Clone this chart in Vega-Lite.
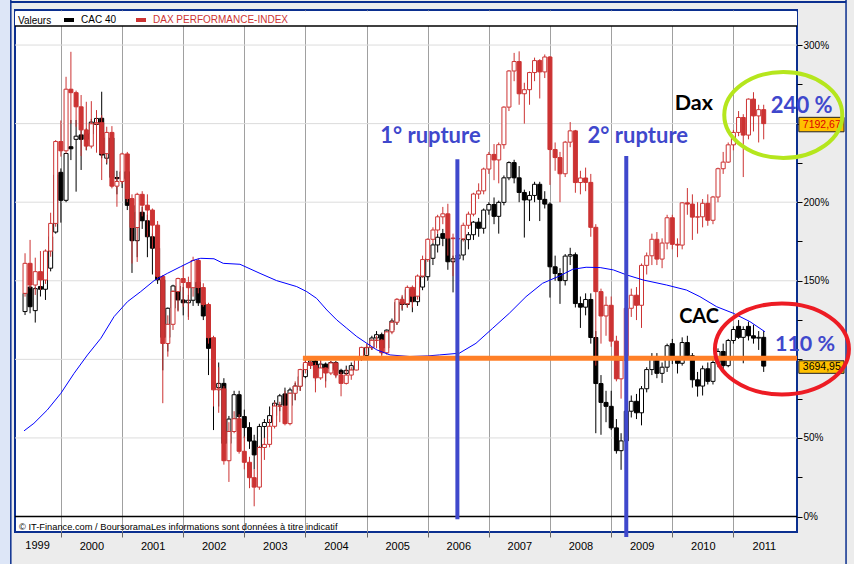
{
  "$schema": "https://vega.github.io/schema/vega-lite/v6.json",
  "width": 782,
  "height": 522,
  "autosize": {"type": "none"},
  "padding": {"left": 15, "top": 10, "right": 57, "bottom": 32},
  "background": "#ececec",
  "config": {
    "view": {"fill": "white", "stroke": "#0b2f8f", "strokeWidth": 2},
    "font": "Liberation Sans"
  },
  "resolve": {"axis": {"x": "independent", "y": "independent"}},
  "datasets": {
    "dax": [
      {"d":"1999-06","o":142,"h":167.5,"l":139.9,"c":161.1},
      {"d":"1999-07","o":161.1,"h":176,"l":145.2,"c":147.3},
      {"d":"1999-08","o":147.3,"h":164.7,"l":141,"c":155.8},
      {"d":"1999-09","o":155.8,"h":168.9,"l":144.1,"c":150.5},
      {"d":"1999-10","o":150.5,"h":170,"l":148,"c":168.9},
      {"d":"1999-11","o":168.9,"h":193.3,"l":165.3,"c":186.5},
      {"d":"1999-12","o":186.5,"h":239.5,"l":184.4,"c":238.6},
      {"d":"2000-01","o":238.6,"h":252,"l":229,"c":232.7},
      {"d":"2000-02","o":232.7,"h":279.8,"l":231,"c":271.9},
      {"d":"2000-03","o":271.9,"h":295.7,"l":250,"c":269.7},
      {"d":"2000-04","o":269.7,"h":271,"l":248,"c":260.7},
      {"d":"2000-05","o":260.7,"h":268.2,"l":229.4,"c":246},
      {"d":"2000-06","o":246,"h":263.9,"l":233.2,"c":235.7},
      {"d":"2000-07","o":235.7,"h":264.3,"l":234.2,"c":249.9},
      {"d":"2000-08","o":249.9,"h":258.6,"l":231.5,"c":250.6},
      {"d":"2000-09","o":250.6,"h":255.4,"l":214.1,"c":230.9},
      {"d":"2000-10","o":230.9,"h":248,"l":225,"c":244.4},
      {"d":"2000-11","o":244.4,"h":248.4,"l":208.8,"c":210.2},
      {"d":"2000-12","o":210.2,"h":216.2,"l":197.1,"c":213.2},
      {"d":"2001-01","o":213.2,"h":231.5,"l":211.6,"c":230.7},
      {"d":"2001-02","o":230.7,"h":232,"l":200,"c":202.3},
      {"d":"2001-03","o":202.3,"h":205,"l":161,"c":183.9},
      {"d":"2001-04","o":183.9,"h":206,"l":162,"c":205},
      {"d":"2001-05","o":205,"h":207,"l":191,"c":198.1},
      {"d":"2001-06","o":198.1,"h":205,"l":178,"c":195},
      {"d":"2001-07","o":195,"h":196,"l":170.6,"c":185.4},
      {"d":"2001-08","o":185.4,"h":188,"l":150.5,"c":152.8},
      {"d":"2001-09","o":152.8,"h":153.7,"l":72.1,"c":110.1},
      {"d":"2001-10","o":110.1,"h":128,"l":101.7,"c":122.3},
      {"d":"2001-11","o":122.3,"h":144.1,"l":118.7,"c":143.2},
      {"d":"2001-12","o":143.2,"h":152,"l":130.4,"c":151.4},
      {"d":"2002-01","o":151.4,"h":160,"l":133.5,"c":148.9},
      {"d":"2002-02","o":148.9,"h":152.6,"l":125.1,"c":145.6},
      {"d":"2002-03","o":145.6,"h":165.3,"l":139.9,"c":162.9},
      {"d":"2002-04","o":162.9,"h":164.3,"l":142,"c":145.7},
      {"d":"2002-05","o":145.7,"h":148.4,"l":133.5,"c":134.9},
      {"d":"2002-06","o":134.9,"h":136,"l":110,"c":113.8},
      {"d":"2002-07","o":113.8,"h":115,"l":70,"c":80.6},
      {"d":"2002-08","o":80.6,"h":95,"l":66,"c":81.2},
      {"d":"2002-09","o":81.2,"h":83,"l":33,"c":35.5},
      {"d":"2002-10","o":35.5,"h":60,"l":22,"c":54.1},
      {"d":"2002-11","o":54.1,"h":67,"l":53,"c":62.2},
      {"d":"2002-12","o":62.2,"h":65,"l":40,"c":41.5},
      {"d":"2003-01","o":41.5,"h":51,"l":30,"c":34.5},
      {"d":"2003-02","o":34.5,"h":38,"l":18,"c":24.7},
      {"d":"2003-03","o":24.7,"h":30,"l":6.5,"c":18.7},
      {"d":"2003-04","o":18.7,"h":45,"l":17,"c":43.9},
      {"d":"2003-05","o":43.9,"h":50,"l":36,"c":45.9},
      {"d":"2003-06","o":45.9,"h":62,"l":44,"c":57.4},
      {"d":"2003-07","o":57.4,"h":73,"l":56,"c":70.3},
      {"d":"2003-08","o":70.3,"h":73,"l":60,"c":70.2},
      {"d":"2003-09","o":70.2,"h":80,"l":58,"c":59.1},
      {"d":"2003-10","o":59.1,"h":79,"l":58,"c":78.4},
      {"d":"2003-11","o":78.4,"h":86,"l":74,"c":82.9},
      {"d":"2003-12","o":82.9,"h":94,"l":80,"c":93.5},
      {"d":"2004-01","o":93.5,"h":101,"l":91,"c":98},
      {"d":"2004-02","o":98,"h":101,"l":94,"c":96.1},
      {"d":"2004-03","o":96.1,"h":98,"l":79,"c":88.2},
      {"d":"2004-04","o":88.2,"h":101,"l":87,"c":94.5},
      {"d":"2004-05","o":94.5,"h":95,"l":82,"c":91.3},
      {"d":"2004-06","o":91.3,"h":99,"l":90,"c":97.7},
      {"d":"2004-07","o":97.7,"h":98,"l":88,"c":90.1},
      {"d":"2004-08","o":90.1,"h":92,"l":76.5,"c":84.7},
      {"d":"2004-09","o":84.7,"h":94,"l":84,"c":90},
      {"d":"2004-10","o":90,"h":95,"l":87,"c":93.2},
      {"d":"2004-11","o":93.2,"h":102,"l":93,"c":101.3},
      {"d":"2004-12","o":101.3,"h":108,"l":99,"c":107.6},
      {"d":"2005-01","o":107.6,"h":110,"l":103,"c":107.5},
      {"d":"2005-02","o":107.5,"h":113,"l":106,"c":112.1},
      {"d":"2005-03","o":112.1,"h":115,"l":107,"c":112.2},
      {"d":"2005-04","o":112.2,"h":113,"l":100,"c":104.2},
      {"d":"2005-05","o":104.2,"h":118,"l":103,"c":117.5},
      {"d":"2005-06","o":117.5,"h":125,"l":116,"c":123.6},
      {"d":"2005-07","o":123.6,"h":139,"l":122,"c":138.2},
      {"d":"2005-08","o":138.2,"h":141,"l":132,"c":135.4},
      {"d":"2005-09","o":135.4,"h":147,"l":133,"c":145.8},
      {"d":"2005-10","o":145.8,"h":147,"l":133,"c":140.2},
      {"d":"2005-11","o":140.2,"h":154,"l":138,"c":153},
      {"d":"2005-12","o":153,"h":166,"l":152,"c":163.5},
      {"d":"2006-01","o":163.5,"h":177,"l":162,"c":176.4},
      {"d":"2006-02","o":176.4,"h":184,"l":174,"c":182.3},
      {"d":"2006-03","o":182.3,"h":192,"l":180,"c":190.7},
      {"d":"2006-04","o":190.7,"h":197,"l":186,"c":192.6},
      {"d":"2006-05","o":192.6,"h":199,"l":166,"c":177.2},
      {"d":"2006-06","o":177.2,"h":180,"l":153,"c":176.8},
      {"d":"2006-07","o":176.8,"h":182,"l":168,"c":176.7},
      {"d":"2006-08","o":176.7,"h":187,"l":175,"c":185.3},
      {"d":"2006-09","o":185.3,"h":194,"l":183,"c":192.4},
      {"d":"2006-10","o":192.4,"h":206,"l":191,"c":205.2},
      {"d":"2006-11","o":205.2,"h":212,"l":202,"c":207.2},
      {"d":"2006-12","o":207.2,"h":222,"l":205,"c":221.1},
      {"d":"2007-01","o":221.1,"h":232,"l":218,"c":230.4},
      {"d":"2007-02","o":230.4,"h":237,"l":214,"c":226.9},
      {"d":"2007-03","o":226.9,"h":238,"l":212,"c":236.6},
      {"d":"2007-04","o":236.6,"h":261,"l":234,"c":260.5},
      {"d":"2007-05","o":260.5,"h":284,"l":258,"c":283.5},
      {"d":"2007-06","o":283.5,"h":295,"l":277,"c":289.5},
      {"d":"2007-07","o":289.5,"h":296,"l":262,"c":269},
      {"d":"2007-08","o":269,"h":276,"l":250,"c":271.6},
      {"d":"2007-09","o":271.6,"h":283,"l":262,"c":282.5},
      {"d":"2007-10","o":282.5,"h":292,"l":277,"c":290.1},
      {"d":"2007-11","o":290.1,"h":291,"l":266,"c":282.9},
      {"d":"2007-12","o":282.9,"h":294,"l":279,"c":292.4},
      {"d":"2008-01","o":292.4,"h":293,"l":211,"c":233.5},
      {"d":"2008-02","o":233.5,"h":238,"l":220,"c":228.4},
      {"d":"2008-03","o":228.4,"h":232,"l":200,"c":218.1},
      {"d":"2008-04","o":218.1,"h":239,"l":216,"c":238.2},
      {"d":"2008-05","o":238.2,"h":251,"l":235,"c":245.4},
      {"d":"2008-06","o":245.4,"h":246,"l":206,"c":212.5},
      {"d":"2008-07","o":212.5,"h":220,"l":205,"c":215.4},
      {"d":"2008-08","o":215.4,"h":222,"l":207,"c":212.6},
      {"d":"2008-09","o":212.6,"h":218,"l":178,"c":184},
      {"d":"2008-10","o":184,"h":186,"l":96,"c":143.1},
      {"d":"2008-11","o":143.1,"h":145,"l":110,"c":127.6},
      {"d":"2008-12","o":127.6,"h":140,"l":115,"c":134.4},
      {"d":"2009-01","o":134.4,"h":140,"l":108,"c":111.6},
      {"d":"2009-02","o":111.6,"h":115,"l":86,"c":87.6},
      {"d":"2009-03","o":87.6,"h":100,"l":75,"c":99.3},
      {"d":"2009-04","o":99.3,"h":134,"l":94,"c":132.5},
      {"d":"2009-05","o":132.5,"h":145,"l":127,"c":140.8},
      {"d":"2009-06","o":140.8,"h":146,"l":125,"c":134.4},
      {"d":"2009-07","o":134.4,"h":161,"l":120,"c":159.8},
      {"d":"2009-08","o":159.8,"h":168,"l":154,"c":165.9},
      {"d":"2009-09","o":165.9,"h":180,"l":160,"c":176.4},
      {"d":"2009-10","o":176.4,"h":181,"l":160,"c":163.8},
      {"d":"2009-11","o":163.8,"h":177,"l":158,"c":174},
      {"d":"2009-12","o":174,"h":192,"l":170,"c":190.1},
      {"d":"2010-01","o":190.1,"h":192,"l":170,"c":173.2},
      {"d":"2010-02","o":173.2,"h":177,"l":165,"c":172.7},
      {"d":"2010-03","o":172.7,"h":200,"l":170,"c":199.6},
      {"d":"2010-04","o":199.6,"h":209,"l":192,"c":198.8},
      {"d":"2010-05","o":198.8,"h":205,"l":176,"c":190.5},
      {"d":"2010-06","o":190.5,"h":200,"l":180,"c":190.7},
      {"d":"2010-07","o":190.7,"h":202,"l":184,"c":199.3},
      {"d":"2010-08","o":199.3,"h":205,"l":185,"c":188.5},
      {"d":"2010-09","o":188.5,"h":204,"l":186,"c":203.3},
      {"d":"2010-10","o":203.3,"h":222,"l":200,"c":221.3},
      {"d":"2010-11","o":221.3,"h":232,"l":218,"c":225.5},
      {"d":"2010-12","o":225.5,"h":238,"l":225,"c":236.5},
      {"d":"2011-01","o":236.5,"h":246,"l":233,"c":244.4},
      {"d":"2011-02","o":244.4,"h":258,"l":242,"c":253.9},
      {"d":"2011-03","o":253.9,"h":256,"l":216,"c":242.7},
      {"d":"2011-04","o":242.7,"h":266,"l":240,"c":265.6},
      {"d":"2011-05","o":265.6,"h":270,"l":245,"c":254.9},
      {"d":"2011-06","o":254.9,"h":262,"l":238,"c":258.9},
      {"d":"2011-07","o":258.9,"h":262,"l":240,"c":250}
    ],
    "cac": [
      {"d":"1999-06","o":130.4,"h":144.1,"l":128.2,"c":142},
      {"d":"1999-07","o":146,"h":147,"l":129.3,"c":133.5},
      {"d":"1999-08","o":131,"h":146,"l":123.4,"c":145},
      {"d":"1999-09","o":146.3,"h":147,"l":140,"c":144.6},
      {"d":"1999-10","o":144.6,"h":158,"l":137.8,"c":156},
      {"d":"1999-11","o":158,"h":180,"l":156,"c":178},
      {"d":"1999-12","o":181,"h":218,"l":180,"c":217.3},
      {"d":"2000-01","o":219,"h":221.5,"l":187,"c":201.2},
      {"d":"2000-02","o":201.2,"h":231.1,"l":200,"c":231},
      {"d":"2000-03","o":235.3,"h":252.3,"l":226.8,"c":234},
      {"d":"2000-04","o":240,"h":252.3,"l":206.7,"c":242},
      {"d":"2000-05","o":242.8,"h":245.9,"l":220.5,"c":240},
      {"d":"2000-06","o":240,"h":247,"l":233,"c":243.5},
      {"d":"2000-07","o":243.5,"h":253,"l":240,"c":251},
      {"d":"2000-08","o":249.5,"h":256,"l":245,"c":253.3},
      {"d":"2000-09","o":253.4,"h":270.3,"l":228,"c":230},
      {"d":"2000-10","o":228,"h":243,"l":224,"c":240.9},
      {"d":"2000-11","o":240.9,"h":243,"l":210,"c":215.7},
      {"d":"2000-12","o":215.7,"h":220,"l":205,"c":215},
      {"d":"2001-01","o":215,"h":223,"l":209,"c":219.4},
      {"d":"2001-02","o":219.4,"h":222,"l":195,"c":198},
      {"d":"2001-03","o":198,"h":200,"l":155,"c":175.5},
      {"d":"2001-04","o":175.5,"h":195,"l":165,"c":193.6},
      {"d":"2001-05","o":193.6,"h":197,"l":183,"c":188.2},
      {"d":"2001-06","o":188.2,"h":192,"l":165,"c":178},
      {"d":"2001-07","o":178,"h":180,"l":154,"c":170.7},
      {"d":"2001-08","o":170.7,"h":172,"l":148,"c":150.6},
      {"d":"2001-09","o":150.6,"h":152,"l":93,"c":114},
      {"d":"2001-10","o":114,"h":133,"l":105,"c":132.5},
      {"d":"2001-11","o":132.5,"h":147.5,"l":125,"c":146.7},
      {"d":"2001-12","o":146.7,"h":148,"l":131,"c":137.8},
      {"d":"2002-01","o":137.8,"h":146,"l":128,"c":136},
      {"d":"2002-02","o":136,"h":141,"l":127,"c":137.6},
      {"d":"2002-03","o":137.6,"h":151,"l":134,"c":149.1},
      {"d":"2002-04","o":149.1,"h":150,"l":134,"c":136},
      {"d":"2002-05","o":136,"h":140,"l":125,"c":127.6},
      {"d":"2002-06","o":127.6,"h":129,"l":90,"c":107},
      {"d":"2002-07","o":107,"h":110,"l":55,"c":82},
      {"d":"2002-08","o":82,"h":98,"l":70,"c":84.7},
      {"d":"2002-09","o":84.7,"h":88,"l":44,"c":46.5},
      {"d":"2002-10","o":46.5,"h":64,"l":36,"c":62},
      {"d":"2002-11","o":62,"h":80,"l":57,"c":77.5},
      {"d":"2002-12","o":77.5,"h":80,"l":58,"c":63.6},
      {"d":"2003-01","o":63.6,"h":68,"l":50,"c":56.6},
      {"d":"2003-02","o":56.6,"h":60,"l":43,"c":48},
      {"d":"2003-03","o":48,"h":52,"l":30,"c":39.2},
      {"d":"2003-04","o":42.4,"h":59,"l":38,"c":57.3},
      {"d":"2003-05","o":57.3,"h":62,"l":50,"c":59.8},
      {"d":"2003-06","o":59.8,"h":70,"l":57,"c":64.2},
      {"d":"2003-07","o":64.2,"h":74,"l":62,"c":72.1},
      {"d":"2003-08","o":71,"h":78,"l":67,"c":76.8},
      {"d":"2003-09","o":78,"h":82,"l":66,"c":70.6},
      {"d":"2003-10","o":70.6,"h":82,"l":69,"c":80.5},
      {"d":"2003-11","o":80.5,"h":85,"l":74,"c":83},
      {"d":"2003-12","o":83,"h":90,"l":80,"c":89},
      {"d":"2004-01","o":89,"h":100,"l":88,"c":97},
      {"d":"2004-02","o":97,"h":101,"l":94,"c":99},
      {"d":"2004-03","o":99,"h":100,"l":86,"c":94},
      {"d":"2004-04","o":94,"h":101,"l":91,"c":97},
      {"d":"2004-05","o":97,"h":98,"l":86,"c":94},
      {"d":"2004-06","o":94,"h":99,"l":92,"c":98},
      {"d":"2004-07","o":98,"h":99,"l":89,"c":93},
      {"d":"2004-08","o":93,"h":94,"l":86,"c":91},
      {"d":"2004-09","o":91,"h":96,"l":89,"c":93},
      {"d":"2004-10","o":93,"h":98,"l":90,"c":96},
      {"d":"2004-11","o":96,"h":102,"l":95,"c":101},
      {"d":"2004-12","o":101,"h":104,"l":99,"c":102.5},
      {"d":"2005-01","o":102.5,"h":108,"l":101,"c":107.5},
      {"d":"2005-02","o":107.5,"h":115,"l":106,"c":113.6},
      {"d":"2005-03","o":113.6,"h":118,"l":110,"c":115.7},
      {"d":"2005-04","o":115.7,"h":117,"l":103,"c":107.2},
      {"d":"2005-05","o":107.2,"h":119,"l":104,"c":118.6},
      {"d":"2005-06","o":118.6,"h":126,"l":117,"c":124.4},
      {"d":"2005-07","o":124.4,"h":137,"l":122,"c":136.4},
      {"d":"2005-08","o":136.4,"h":140,"l":131,"c":134.9},
      {"d":"2005-09","o":134.9,"h":146,"l":133,"c":144.4},
      {"d":"2005-10","o":144.4,"h":146,"l":130,"c":136.7},
      {"d":"2005-11","o":136.7,"h":148,"l":134,"c":146},
      {"d":"2005-12","o":146,"h":154,"l":144,"c":152.6},
      {"d":"2006-01","o":152.6,"h":165,"l":150,"c":164.3},
      {"d":"2006-02","o":164.3,"h":174,"l":160,"c":172.8},
      {"d":"2006-03","o":172.8,"h":180,"l":168,"c":177.7},
      {"d":"2006-04","o":180,"h":183,"l":172,"c":177},
      {"d":"2006-05","o":177,"h":183,"l":157,"c":162.1},
      {"d":"2006-06","o":162.1,"h":166,"l":142.6,"c":164},
      {"d":"2006-07","o":164,"h":170,"l":155,"c":166.4},
      {"d":"2006-08","o":166.4,"h":177,"l":163,"c":176.2},
      {"d":"2006-09","o":176.2,"h":181,"l":170,"c":179.3},
      {"d":"2006-10","o":179.3,"h":188,"l":176,"c":187.3},
      {"d":"2006-11","o":187.3,"h":190,"l":178,"c":183.4},
      {"d":"2006-12","o":183.4,"h":196,"l":180,"c":195},
      {"d":"2007-01","o":195,"h":200,"l":192,"c":198.5},
      {"d":"2007-02","o":198.5,"h":203,"l":186,"c":191},
      {"d":"2007-03","o":191,"h":201,"l":180,"c":199.9},
      {"d":"2007-04","o":199.9,"h":217,"l":198,"c":215.5},
      {"d":"2007-05","o":215.5,"h":226,"l":214,"c":225.2},
      {"d":"2007-06","o":225.2,"h":227,"l":212,"c":215.5},
      {"d":"2007-07","o":215.5,"h":223,"l":200,"c":206.2},
      {"d":"2007-08","o":206.2,"h":208,"l":177.5,"c":201.4},
      {"d":"2007-09","o":201.4,"h":207,"l":188,"c":204.3},
      {"d":"2007-10","o":204.3,"h":213,"l":200,"c":211.4},
      {"d":"2007-11","o":211.4,"h":213,"l":188,"c":201.8},
      {"d":"2007-12","o":201.8,"h":207,"l":196,"c":198.8},
      {"d":"2008-01","o":198.8,"h":200,"l":139.3,"c":158.9},
      {"d":"2008-02","o":158.9,"h":166,"l":150,"c":154.6},
      {"d":"2008-03","o":154.6,"h":158,"l":135.3,"c":150.1},
      {"d":"2008-04","o":150.1,"h":167,"l":147,"c":165.7},
      {"d":"2008-05","o":165.7,"h":171,"l":160,"c":166.6},
      {"d":"2008-06","o":166.6,"h":168,"l":133,"c":135.5},
      {"d":"2008-07","o":135.5,"h":140,"l":120,"c":133.2},
      {"d":"2008-08","o":133.2,"h":142,"l":128,"c":138.1},
      {"d":"2008-09","o":138.1,"h":142,"l":110,"c":113.9},
      {"d":"2008-10","o":113.9,"h":118,"l":53,"c":84.6},
      {"d":"2008-11","o":84.6,"h":90,"l":52,"c":72.6},
      {"d":"2008-12","o":72.6,"h":80,"l":60,"c":70.1},
      {"d":"2009-01","o":70.1,"h":80,"l":55,"c":56.4},
      {"d":"2009-02","o":56.4,"h":62,"l":40,"c":41.9},
      {"d":"2009-03","o":41.9,"h":53,"l":29.7,"c":48.1},
      {"d":"2009-04","o":48.1,"h":69,"l":45,"c":67},
      {"d":"2009-05","o":67,"h":77,"l":63,"c":73.3},
      {"d":"2009-06","o":73.3,"h":78,"l":62,"c":66},
      {"d":"2009-07","o":66,"h":83,"l":58,"c":81.3},
      {"d":"2009-08","o":81.3,"h":95,"l":79,"c":93.5},
      {"d":"2009-09","o":93.5,"h":104,"l":90,"c":101.1},
      {"d":"2009-10","o":101.1,"h":104,"l":88,"c":91.1},
      {"d":"2009-11","o":91.1,"h":98,"l":85,"c":95},
      {"d":"2009-12","o":95,"h":110,"l":92,"c":108.7},
      {"d":"2010-01","o":110,"h":113,"l":97,"c":100},
      {"d":"2010-02","o":100,"h":102,"l":91,"c":97.5},
      {"d":"2010-03","o":97.5,"h":114,"l":96,"c":110.7},
      {"d":"2010-04","o":110.7,"h":115,"l":100,"c":102.3},
      {"d":"2010-05","o":102.3,"h":104,"l":82,"c":87},
      {"d":"2010-06","o":87,"h":92,"l":76.3,"c":83},
      {"d":"2010-07","o":83,"h":96,"l":77,"c":94},
      {"d":"2010-08","o":94,"h":98,"l":84,"c":86},
      {"d":"2010-09","o":86,"h":100,"l":84,"c":98},
      {"d":"2010-10","o":98,"h":107,"l":95,"c":105},
      {"d":"2010-11","o":105,"h":110,"l":92,"c":96},
      {"d":"2010-12","o":96,"h":113,"l":95,"c":112},
      {"d":"2011-01","o":112,"h":121,"l":110,"c":119},
      {"d":"2011-02","o":121,"h":125,"l":113,"c":114},
      {"d":"2011-03","o":114,"h":121,"l":97.5,"c":119},
      {"d":"2011-04","o":121,"h":124,"l":112,"c":115},
      {"d":"2011-05","o":115,"h":122,"l":110,"c":113.5},
      {"d":"2011-06","o":113.5,"h":118,"l":106,"c":114},
      {"d":"2011-07","o":114,"h":118,"l":92,"c":95.7}
    ],
    "ma": [
      {"d":"1999-05-26","v":54.5},{"d":"1999-07-24","v":59.3},{"d":"1999-10-12","v":67.8},
      {"d":"2000-01-01","v":78.4},{"d":"2000-03-20","v":91.1},{"d":"2000-06-08","v":102.8},
      {"d":"2000-08-27","v":113.4},{"d":"2000-11-14","v":127.2},{"d":"2001-02-02","v":136.7},
      {"d":"2001-04-22","v":143.1},{"d":"2001-07-11","v":150.1},{"d":"2001-09-28","v":154.7},
      {"d":"2001-12-17","v":159},{"d":"2002-03-07","v":163.2},{"d":"2002-04-16","v":164.3},
      {"d":"2002-07-04","v":164},{"d":"2002-08-28","v":161.1},{"d":"2002-12-06","v":160.5},
      {"d":"2003-04-05","v":154.7},{"d":"2003-07-13","v":150.1},{"d":"2003-11-10","v":146.3},
      {"d":"2004-01-09","v":143.1},{"d":"2004-03-08","v":138.8},{"d":"2004-05-08","v":131.4},
      {"d":"2004-07-06","v":125.1},{"d":"2004-09-04","v":119.8},{"d":"2004-11-03","v":114.5},
      {"d":"2005-01-02","v":110.2},{"d":"2005-03-03","v":106},{"d":"2005-05-21","v":102.8},
      {"d":"2005-09-16","v":101.8},{"d":"2006-01-01","v":102.2},{"d":"2006-03-11","v":102.8},
      {"d":"2006-07-08","v":103.9},{"d":"2006-10-16","v":110.2},{"d":"2007-01-24","v":119.8},
      {"d":"2007-05-03","v":129.3},{"d":"2007-08-11","v":139.9},{"d":"2007-11-18","v":148.4},
      {"d":"2008-02-26","v":153},{"d":"2008-05-16","v":157.3},{"d":"2008-08-04","v":158.6},
      {"d":"2008-10-27","v":158.4},{"d":"2009-01-14","v":156.9},{"d":"2009-04-04","v":153.7},
      {"d":"2009-07-11","v":150.5},{"d":"2009-11-28","v":147.3},{"d":"2010-03-27","v":144.1},
      {"d":"2010-06-15","v":139.9},{"d":"2010-09-23","v":133.5},{"d":"2011-01-01","v":129.3},
      {"d":"2011-04-10","v":124},{"d":"2011-07-08","v":117.6}
    ],
    "ygrid": [{"v":50},{"v":100},{"v":150},{"v":200},{"v":250},{"v":300}],
    "one": [{}]
  },
  "layer": [
    {
      "data": {"name": "ygrid"},
      "mark": {"type": "rule", "stroke": "#dcdcdc", "strokeWidth": 1},
      "encoding": {
        "y": {
          "field": "v", "type": "quantitative",
          "scale": {"domain": [-9.86, 322.3], "nice": false, "zero": false, "padding": 0},
          "axis": {
            "title": null, "orient": "right",
            "values": [0, 25, 50, 75, 100, 125, 150, 175, 200, 225, 250, 275, 300],
            "labelExpr": "(datum.value % 50 === 0 && datum.value !== 100 && datum.value !== 250) ? datum.value + '%' : ''",
            "labelFont": "Liberation Sans", "labelFontSize": 10, "labelColor": "#000000", "labelPadding": 1,
            "tickSize": 5, "tickColor": "#000000", "domain": false, "grid": false
          }
        }
      }
    },
    {
      "data": {"name": "cac"},
      "mark": {"type": "rule", "strokeWidth": 1},
      "encoding": {
        "x": {
          "field": "d", "type": "temporal",
          "scale": {"type": "utc", "padding": 0, "domain": [{"year": 1999, "month": 4, "date": 2, "utc": true}, {"year": 2012, "month": 1, "date": 16, "utc": true}]},
          "axis": {
            "title": null, "orient": "bottom", "format": "%Y",
            "values": [
              {"year": 2000, "utc": true}, {"year": 2001, "utc": true}, {"year": 2002, "utc": true},
              {"year": 2003, "utc": true}, {"year": 2004, "utc": true}, {"year": 2005, "utc": true},
              {"year": 2006, "utc": true}, {"year": 2007, "utc": true}, {"year": 2008, "utc": true},
              {"year": 2009, "utc": true}, {"year": 2010, "utc": true}, {"year": 2011, "utc": true}
            ],
            "labelOffset": 30.5, "labelFlush": false, "labelOverlap": false, "labelPadding": 3,
            "labelFont": "Liberation Sans", "labelFontSize": 11, "labelColor": "#000000",
            "tickSize": 5, "tickColor": "#666666", "domain": false,
            "grid": true, "gridColor": "#a0a0a0", "gridWidth": 1
          }
        },
        "y": {"field": "l", "type": "quantitative", "axis": null},
        "y2": {"field": "h"},
        "stroke": {
          "datum": "CAC 40", "type": "nominal",
          "scale": {"domain": ["CAC 40", "DAX PERFORMANCE-INDEX"], "range": ["#000000", "#cc3333"]},
          "legend": {
            "title": "Valeurs", "orient": "top-left", "offset": 3, "padding": 0,
            "direction": "horizontal", "titleOrient": "left", "titlePadding": 10,
            "titleFont": "Liberation Sans", "titleFontSize": 10, "titleFontWeight": "normal", "titleColor": "#000000",
            "labelFont": "Liberation Sans", "labelFontSize": 10, "labelOffset": 5, "columnPadding": 11,
            "symbolType": "M -1 0 L 1 0", "symbolSize": 100, "symbolStrokeWidth": 4,
            "encode": {"labels": {"update": {"fill": {"signal": "datum.label === 'CAC 40' ? '#000000' : '#cc3333'"}}}}
          }
        }
      }
    },
    {
      "data": {"name": "cac"},
      "mark": {"type": "bar", "width": 4, "strokeWidth": 1},
      "encoding": {
        "x": {"field": "d", "type": "temporal", "axis": null},
        "y": {"field": "o", "type": "quantitative", "axis": null},
        "y2": {"field": "c"},
        "stroke": {"datum": "CAC 40", "type": "nominal", "legend": null},
        "fill": {"condition": {"test": "datum.c < datum.o", "value": "#000000"}, "value": "#ffffff"}
      }
    },
    {
      "data": {"name": "dax"},
      "mark": {"type": "rule", "strokeWidth": 1},
      "encoding": {
        "x": {"field": "d", "type": "temporal", "axis": null},
        "y": {"field": "l", "type": "quantitative", "axis": null},
        "y2": {"field": "h"},
        "stroke": {"datum": "DAX PERFORMANCE-INDEX", "type": "nominal", "legend": null}
      }
    },
    {
      "data": {"name": "dax"},
      "mark": {"type": "bar", "width": 4, "strokeWidth": 1},
      "encoding": {
        "x": {"field": "d", "type": "temporal", "axis": null},
        "y": {"field": "o", "type": "quantitative", "axis": null},
        "y2": {"field": "c"},
        "stroke": {"datum": "DAX PERFORMANCE-INDEX", "type": "nominal", "legend": null},
        "fill": {"condition": {"test": "datum.c < datum.o", "value": "#cc3333"}, "value": "#ffffff"}
      }
    },
    {
      "data": {"name": "ma"},
      "mark": {"type": "line", "stroke": "#0000ff", "strokeWidth": 1},
      "encoding": {
        "x": {"field": "d", "type": "temporal", "axis": null},
        "y": {"field": "v", "type": "quantitative", "axis": null}
      }
    },
    {
      "data": {"name": "one"},
      "mark": {"type": "rect", "fill": "#ffffff"},
      "encoding": {
        "x": {"datum": {"year": 1999, "month": 4, "date": 2, "utc": true}, "type": "temporal", "axis": null},
        "x2": {"datum": {"year": 2012, "month": 1, "date": 16, "utc": true}},
        "y": {"datum": 312.1, "type": "quantitative", "axis": null},
        "y2": {"datum": 321.5}
      }
    },
    {
      "data": {"name": "one"},
      "mark": {"type": "rule", "stroke": "#000000", "strokeWidth": 1.5},
      "encoding": {
        "x": {"datum": {"year": 1999, "month": 4, "date": 2, "utc": true}, "type": "temporal", "axis": null},
        "x2": {"datum": {"year": 2012, "month": 1, "date": 16, "utc": true}},
        "y": {"datum": 312.1, "type": "quantitative", "axis": null}
      }
    },
    {
      "data": {"name": "one"},
      "mark": {"type": "rule", "stroke": "#000000", "strokeWidth": 1.5},
      "encoding": {
        "x": {"datum": {"year": 1999, "month": 4, "date": 2, "utc": true}, "type": "temporal", "axis": null},
        "x2": {"datum": {"year": 2012, "month": 1, "date": 16, "utc": true}},
        "y": {"datum": 0, "type": "quantitative", "axis": null}
      }
    },
    {
      "data": {"name": "one"},
      "mark": {"type": "rect", "fill": "#dde6f7"},
      "encoding": {
        "x": {"datum": {"year": 1998, "month": 11, "date": 1, "utc": true}, "type": "temporal", "axis": null},
        "x2": {"datum": {"year": 1999, "month": 3, "date": 4, "utc": true}},
        "y": {"datum": 340, "type": "quantitative", "axis": null},
        "y2": {"datum": -35}
      }
    },
    {
      "data": {"name": "one"},
      "mark": {"type": "rule", "stroke": "#0b2f8f", "strokeWidth": 1.5},
      "encoding": {
        "x": {"datum": {"year": 1999, "month": 3, "date": 8, "utc": true}, "type": "temporal", "axis": null},
        "y": {"datum": 340, "type": "quantitative", "axis": null},
        "y2": {"datum": -35}
      }
    },
    {
      "data": {"name": "one"},
      "mark": {"type": "rule", "stroke": "#0b2f8f", "strokeWidth": 1.5},
      "encoding": {
        "x": {"datum": {"year": 2012, "month": 11, "date": 4, "utc": true}, "type": "temporal", "axis": null},
        "y": {"datum": 340, "type": "quantitative", "axis": null},
        "y2": {"datum": -35}
      }
    },
    {
      "data": {"name": "one"},
      "mark": {"type": "rule", "stroke": "#0b2f8f", "strokeWidth": 2},
      "encoding": {
        "x": {"datum": {"year": 1999, "month": 3, "date": 8, "utc": true}, "type": "temporal", "axis": null},
        "x2": {"datum": {"year": 2012, "month": 11, "date": 4, "utc": true}},
        "y": {"datum": 327.4, "type": "quantitative", "axis": null}
      }
    },
    {
      "data": {"name": "one"},
      "mark": {"type": "rule", "stroke": "#ff7f27", "strokeWidth": 5},
      "encoding": {
        "x": {"datum": {"year": 2003, "month": 12, "date": 17, "utc": true}, "type": "temporal", "axis": null},
        "x2": {"datum": {"year": 2012, "month": 1, "date": 16, "utc": true}},
        "y": {"datum": 100.7, "type": "quantitative", "axis": null}
      }
    },
    {
      "data": {"name": "one"},
      "mark": {"type": "rule", "stroke": "#3f48cc", "strokeWidth": 4},
      "encoding": {
        "x": {"datum": {"year": 2006, "month": 6, "date": 27, "utc": true}, "type": "temporal", "axis": null},
        "y": {"datum": 227.3, "type": "quantitative", "axis": null},
        "y2": {"datum": -1.8}
      }
    },
    {
      "data": {"name": "one"},
      "mark": {"type": "rule", "stroke": "#3f48cc", "strokeWidth": 4},
      "encoding": {
        "x": {"datum": {"year": 2009, "month": 4, "date": 1, "utc": true}, "type": "temporal", "axis": null},
        "y": {"datum": 229.4, "type": "quantitative", "axis": null},
        "y2": {"datum": -13}
      }
    },
    {
      "data": {"name": "one"},
      "mark": {"type": "rect", "fill": "#ffc000", "stroke": "#222222", "strokeWidth": 1},
      "encoding": {
        "x": {"datum": {"year": 2012, "month": 1, "date": 27, "utc": true}, "type": "temporal", "axis": null},
        "x2": {"datum": {"year": 2012, "month": 10, "date": 23, "utc": true}},
        "y": {"datum": 254, "type": "quantitative", "axis": null},
        "y2": {"datum": 244.8}
      }
    },
    {
      "data": {"name": "one"},
      "mark": {"type": "text", "text": "7192,67", "color": "#dd0000", "font": "Liberation Sans", "fontSize": 10.5, "align": "center", "baseline": "middle"},
      "encoding": {
        "x": {"datum": {"year": 2012, "month": 6, "date": 12, "utc": true}, "type": "temporal", "axis": null},
        "y": {"datum": 249.4, "type": "quantitative", "axis": null}
      }
    },
    {
      "data": {"name": "one"},
      "mark": {"type": "rect", "fill": "#ffc000", "stroke": "#222222", "strokeWidth": 1},
      "encoding": {
        "x": {"datum": {"year": 2012, "month": 1, "date": 27, "utc": true}, "type": "temporal", "axis": null},
        "x2": {"datum": {"year": 2012, "month": 10, "date": 23, "utc": true}},
        "y": {"datum": 99.1, "type": "quantitative", "axis": null},
        "y2": {"datum": 91.1}
      }
    },
    {
      "data": {"name": "one"},
      "mark": {"type": "text", "text": "3694,95", "color": "#000000", "font": "Liberation Sans", "fontSize": 10.5, "align": "center", "baseline": "middle"},
      "encoding": {
        "x": {"datum": {"year": 2012, "month": 6, "date": 12, "utc": true}, "type": "temporal", "axis": null},
        "y": {"datum": 95.1, "type": "quantitative", "axis": null}
      }
    },
    {
      "data": {"name": "one"},
      "mark": {"type": "text", "text": "1° rupture", "color": "#3f48cc", "font": "Lato", "fontWeight": "bold", "fontSize": 22, "align": "center", "baseline": "middle"},
      "encoding": {
        "x": {"datum": {"year": 2006, "month": 1, "date": 17, "utc": true}, "type": "temporal", "axis": null},
        "y": {"datum": 242.1, "type": "quantitative", "axis": null}
      }
    },
    {
      "data": {"name": "one"},
      "mark": {"type": "text", "text": "2° rupture", "color": "#3f48cc", "font": "Lato", "fontWeight": "bold", "fontSize": 22, "align": "center", "baseline": "middle"},
      "encoding": {
        "x": {"datum": {"year": 2009, "month": 6, "date": 9, "utc": true}, "type": "temporal", "axis": null},
        "y": {"datum": 242.1, "type": "quantitative", "axis": null}
      }
    },
    {
      "data": {"name": "one"},
      "mark": {"type": "text", "text": "Dax", "color": "#000000", "font": "Lato", "fontWeight": "bold", "fontSize": 21.5, "align": "center", "baseline": "middle"},
      "encoding": {
        "x": {"datum": {"year": 2010, "month": 5, "date": 10, "utc": true}, "type": "temporal", "axis": null},
        "y": {"datum": 262.5, "type": "quantitative", "axis": null}
      }
    },
    {
      "data": {"name": "one"},
      "mark": {"type": "text", "text": "CAC", "color": "#000000", "font": "Lato", "fontWeight": "bold", "fontSize": 20, "align": "center", "baseline": "middle"},
      "encoding": {
        "x": {"datum": {"year": 2010, "month": 6, "date": 10, "utc": true}, "type": "temporal", "axis": null},
        "y": {"datum": 126.9, "type": "quantitative", "axis": null}
      }
    },
    {
      "data": {"name": "one"},
      "mark": {"type": "text", "text": "240 %", "color": "#3f48cc", "font": "Lato", "fontWeight": "bold", "fontSize": 22, "align": "center", "baseline": "middle"},
      "encoding": {
        "x": {"datum": {"year": 2012, "month": 2, "date": 13, "utc": true}, "type": "temporal", "axis": null},
        "y": {"datum": 261.5, "type": "quantitative", "axis": null}
      }
    },
    {
      "data": {"name": "one"},
      "mark": {"type": "text", "text": "110 %", "color": "#3f48cc", "font": "Lato", "fontWeight": "bold", "fontSize": 21.5, "align": "center", "baseline": "middle"},
      "encoding": {
        "x": {"datum": {"year": 2012, "month": 3, "date": 4, "utc": true}, "type": "temporal", "axis": null},
        "y": {"datum": 109.1, "type": "quantitative", "axis": null}
      }
    },
    {
      "data": {"name": "one"},
      "mark": {"type": "point", "shape": "M 1 0 C 1 0.4026 0.5523 0.729 0 0.729 C -0.5523 0.729 -1 0.4026 -1 0 C -1 -0.4026 -0.5523 -0.729 0 -0.729 C 0.5523 -0.729 1 -0.4026 1 0 Z", "size": 13924, "filled": false, "stroke": "#b5e61d", "strokeWidth": 4, "opacity": 1},
      "encoding": {
        "x": {"datum": {"year": 2011, "month": 10, "date": 26, "utc": true}, "type": "temporal", "axis": null},
        "y": {"datum": 255.5, "type": "quantitative", "axis": null}
      }
    },
    {
      "data": {"name": "one"},
      "mark": {"type": "point", "shape": "M 1 0 C 1 0.375 0.5523 0.679 0 0.679 C -0.5523 0.679 -1 0.375 -1 0 C -1 -0.375 -0.5523 -0.679 0 -0.679 C 0.5523 -0.679 1 -0.375 1 0 Z", "size": 17956, "filled": false, "stroke": "#ed1c24", "strokeWidth": 4, "opacity": 1},
      "encoding": {
        "x": {"datum": {"year": 2011, "month": 10, "date": 18, "utc": true}, "type": "temporal", "axis": null},
        "y": {"datum": 106.6, "type": "quantitative", "axis": null}
      }
    },
    {
      "data": {"name": "one"},
      "mark": {"type": "text", "text": "© IT-Finance.com / BoursoramaLes informations sont données à titre indicatif", "color": "#000000", "font": "Liberation Sans", "fontSize": 9.3, "align": "left", "baseline": "middle"},
      "encoding": {
        "x": {"datum": {"year": 1999, "month": 4, "date": 26, "utc": true}, "type": "temporal", "axis": null},
        "y": {"datum": -6.7, "type": "quantitative", "axis": null}
      }
    },
    {
      "data": {"name": "one"},
      "mark": {"type": "text", "text": "1999", "color": "#000000", "font": "Liberation Sans", "fontSize": 11, "align": "center", "baseline": "top"},
      "encoding": {
        "x": {"datum": {"year": 1999, "month": 8, "date": 15, "utc": true}, "type": "temporal", "axis": null},
        "y": {"datum": -14.95, "type": "quantitative", "axis": null}
      }
    }
  ]
}
